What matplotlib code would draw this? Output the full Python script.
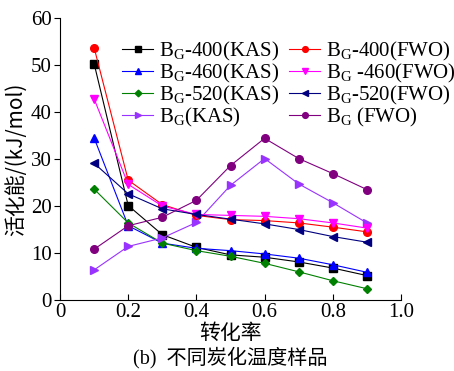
import matplotlib
matplotlib.use("Agg")
import matplotlib.pyplot as plt

plt.rcParams['font.family'] = ['Liberation Serif', 'Noto Sans CJK SC']
plt.rcParams['mathtext.fontset'] = 'custom'
plt.rcParams['mathtext.rm'] = 'Liberation Serif'
plt.rcParams['mathtext.it'] = 'Liberation Serif:italic'

conversion = [0.1, 0.2, 0.3, 0.4, 0.5, 0.6, 0.7, 0.8, 0.9]
bg400_kas = [50.3, 20.1, 13.9, 11.2, 9.6, 9.1, 8.1, 6.8, 5.2]
bg400_fwo = [53.7, 25.5, 20.3, 18.0, 17.1, 16.9, 16.4, 15.5, 14.5]
bg460_kas = [34.5, 15.8, 12.1, 11.0, 10.5, 9.8, 8.9, 7.5, 5.9]
bg460_fwo = [42.8, 24.6, 20.0, 18.2, 18.0, 17.8, 17.3, 16.4, 15.3]
bg520_kas = [23.6, 16.4, 12.1, 10.5, 9.3, 7.8, 6.0, 4.1, 2.4]
bg520_fwo = [29.1, 22.6, 19.4, 18.2, 17.2, 16.2, 15.0, 13.5, 12.3]
bg_kas = [6.4, 11.4, 13.2, 16.5, 24.4, 30.1, 24.7, 20.7, 16.4]
bg_fwo = [10.8, 15.8, 17.6, 21.2, 28.6, 34.4, 30.1, 26.9, 23.5]

series = [
    (bg400_kas, r'B$_{\mathrm{G}}$-400(KAS)', 'black', 's'),
    (bg460_kas, r'B$_{\mathrm{G}}$-460(KAS)', 'blue', '^'),
    (bg520_kas, r'B$_{\mathrm{G}}$-520(KAS)', 'green', 'D'),
    (bg_kas, r'B$_{\mathrm{G}}$(KAS)', '#9933ff', '>'),
    (bg400_fwo, r'B$_{\mathrm{G}}$-400(FWO)', 'red', 'o'),
    (bg460_fwo, r'B$_{\mathrm{G}}$ -460(FWO)', '#ff00ff', 'v'),
    (bg520_fwo, r'B$_{\mathrm{G}}$-520(FWO)', '#000080', '<'),
    (bg_fwo, r'B$_{\mathrm{G}}$ (FWO)', '#800080', 'o'),
]

fig = plt.figure(figsize=(4.54, 3.71), dpi=100)
ax = fig.add_axes([60/454, 1-300/371, 341/454, 282/371])

for vals, lab, col, mk in series:
    ms = 4.5 if mk == 'D' else 5.5
    ax.plot(conversion, vals, color=col, marker=mk, markersize=ms, linewidth=0.8, label=lab)

ax.set_xlim(0, 1.0)
ax.set_ylim(0, 60)
ax.set_xticks([0, 0.2, 0.4, 0.6, 0.8, 1.0])
ax.set_xticklabels(['0', '0.2', '0.4', '0.6', '0.8', '1.0'])
ax.set_yticks([0, 10, 20, 30, 40, 50, 60])
ax.spines['top'].set_visible(False)
ax.spines['right'].set_visible(False)
ax.tick_params(axis='x', direction='in', labelsize=15, length=4, width=0.8, pad=2)
ax.tick_params(axis='y', direction='out', labelsize=15, length=4, width=0.8, pad=2)
for sp in ax.spines.values():
    sp.set_linewidth(0.8)
ax.get_xticklabels()[0].set_x(-0.03)

ax.set_ylabel('活化能/(kJ/mol)', fontsize=15, family=['Noto Sans CJK SC'], labelpad=3)
fig.text((60+401)/2/454, 1-333/371, '转化率', fontsize=15,
         family=['Noto Sans CJK SC'], ha='center', va='center')
fig.text(230/454, 1-358/371, '(b)  不同炭化温度样品', fontsize=14.5,
         family=['Liberation Serif', 'Noto Sans CJK SC'], ha='center', va='center')

ax.legend(loc='upper left', bbox_to_anchor=(0.182, 0.922), ncol=2, frameon=False,
          fontsize=15, handlelength=1.5, handletextpad=0.25, columnspacing=0.5,
          labelspacing=-0.05, borderaxespad=0, borderpad=0, markerscale=0.75)

fig.savefig('out.png', dpi=100)
